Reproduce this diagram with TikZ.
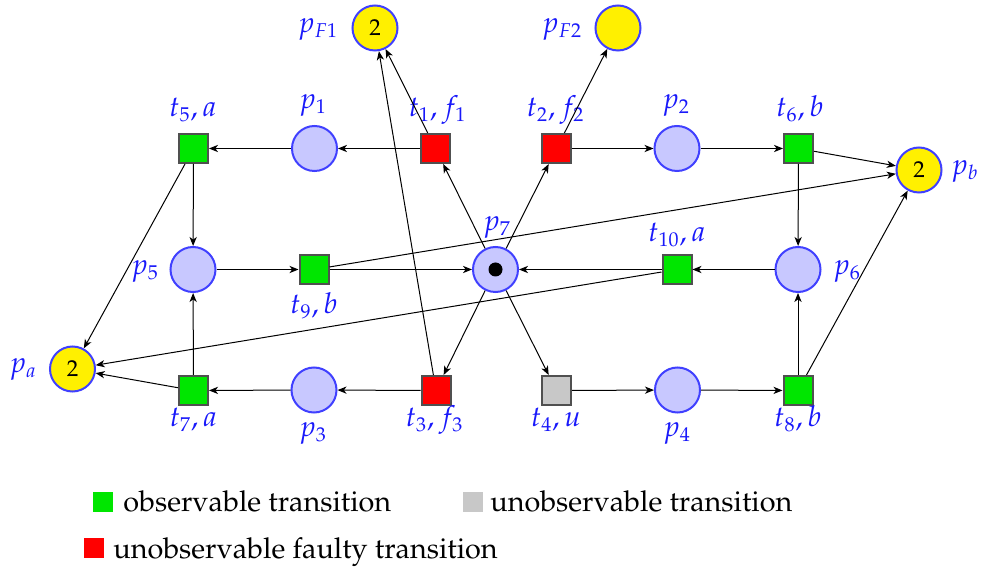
\documentclass[tikz,border=0pt]{standalone}
\usepackage[T1]{fontenc}
\usepackage{mathpazo}
\usetikzlibrary{arrows.meta}
\definecolor{plfill}{RGB}{200,200,255}
\definecolor{plborder}{RGB}{64,64,255}
\definecolor{tkyellow}{RGB}{255,240,0}
\definecolor{trgreen}{RGB}{0,230,0}
\definecolor{trred}{RGB}{255,0,0}
\definecolor{trgray}{RGB}{200,200,200}
\definecolor{trborder}{RGB}{80,80,80}
\definecolor{lblblue}{RGB}{25,25,250}
\begin{document}
\begin{tikzpicture}[x=0.5pt,y=-0.5pt,
  place/.style={circle,draw=plborder,fill=plfill,line width=1pt,minimum size=22.5pt,inner sep=0pt,font=\fontsize{11.5}{13}\selectfont},
  fplace/.style={place,fill=tkyellow},
  trans/.style={rectangle,draw=trborder,line width=1pt,minimum size=14.5pt,inner sep=0pt},
  obs/.style={trans,fill=trgreen},
  fault/.style={trans,fill=trred},
  unobs/.style={trans,fill=trgray},
  lbl/.style={text=lblblue,font=\fontsize{14.4}{16}\selectfont,anchor=base,inner sep=0pt},
  legtext/.style={font=\fontsize{14.4}{17}\selectfont,anchor=base west,inner sep=0pt},
  legbox/.style={rectangle,minimum size=10pt,inner sep=0pt},
  arc/.style={-{Stealth[length=4.5pt,width=3.6pt,inset=1.3pt]},line width=0.5pt,black},
]
\useasboundingbox (0,0) rectangle (982,572);
% places
\node[fplace] (pF1) at (375,28) {2};
\node[fplace] (pF2) at (618,28) {};
\node[place] (p1) at (314.5,148.5) {};
\node[place] (p2) at (677,148.5) {};
\node[fplace] (pb) at (919,170) {2};
\node[place] (p5) at (193,269.5) {};
\node[place] (p7) at (495.5,269.5) {};
\node[place] (p6) at (798,269.5) {};
\node[fplace] (pa) at (72.5,369) {2};
\node[place] (p3) at (314,390) {};
\node[place] (p4) at (677.5,390) {};
\fill (p7.center) circle[radius=3.5pt];
% transitions
\node[obs] (t5) at (193.5,148.5) {};
\node[fault] (t1) at (435.5,148.5) {};
\node[fault] (t2) at (556.5,148.5) {};
\node[obs] (t6) at (798.5,148.5) {};
\node[obs] (t9) at (314,269.5) {};
\node[obs] (t10) at (677,269.5) {};
\node[obs] (t7) at (193.5,390.5) {};
\node[fault] (t3) at (436,390.5) {};
\node[unobs] (t4) at (556.5,390.5) {};
\node[obs] (t8) at (798,390.5) {};
% labels
\node[lbl] (lpF1) at (318,33) {$p_{F1}$};
\node[lbl] (lpF2) at (562,33) {$p_{F2}$};
\node[lbl] (lt1) at (437.5,117) {$t_1, f_1$};
\node[lbl] (lt2) at (555.5,117) {$t_2, f_2$};
\node[lbl] (lp1) at (313,109) {$p_1$};
\node[lbl] (lp2) at (676,109) {$p_2$};
\node[lbl] (lt5) at (193,117) {$t_5, a$};
\node[lbl] (lt6) at (800,117) {$t_6, b$};
\node[lbl] (lpb) at (965,175) {$p_b$};
\node[lbl] (lp5) at (145,275) {$p_5$};
\node[lbl] (lt9) at (314,314) {$t_9, b$};
\node[lbl] (lp7) at (497,231) {$p_7$};
\node[lbl] (lt10) at (677,242) {$t_{10}, a$};
\node[lbl] (lp6) at (847,275) {$p_6$};
\node[lbl] (lpa) at (23,373) {$p_a$};
\node[lbl] (lt7) at (193.5,427) {$t_7, a$};
\node[lbl] (lp3) at (313,437) {$p_3$};
\node[lbl] (lt3) at (434.5,427) {$t_3, f_3$};
\node[lbl] (lt4) at (556,427) {$t_4, u$};
\node[lbl] (lp4) at (677,437) {$p_4$};
\node[lbl] (lt8) at (798,427) {$t_8, b$};
% arcs
\draw[arc] (t1) -- (p1);
\draw[arc] (t1) -- (pF1);
\draw[arc] (p7) -- (t1);
\draw[arc] (p7) -- (t2);
\draw[arc] (t2) -- (pF2);
\draw[arc] (t2) -- (p2);
\draw[arc] (p2) -- (t6);
\draw[arc] (p1) -- (t5);
\draw[arc] (t5) -- (p5);
\draw[arc] (t5) -- (pa);
\draw[arc] (t6) -- (pb);
\draw[arc] (t6) -- (p6);
\draw[arc] (p5) -- (t9);
\draw[arc] (t9) -- (p7);
\draw[arc] (t9) -- (pb);
\draw[arc] (t10) -- (p7);
\draw[arc] (t10) -- (pa);
\draw[arc] (p6) -- (t10);
\draw[arc] (p7) -- (t3);
\draw[arc] (p7) -- (t4);
\draw[arc] (t3) -- (pF1);
\draw[arc] (t3) -- (p3);
\draw[arc] (p3) -- (t7);
\draw[arc] (t7) -- (p5);
\draw[arc] (t7) -- (pa);
\draw[arc] (t4) -- (p4);
\draw[arc] (p4) -- (t8);
\draw[arc] (t8) -- (p6);
\draw[arc] (t8) -- (pb);
% legend
\node[legbox,fill=trgreen] (lg1) at (103,502.5) {};
\node[legtext] (lgt1) at (123,512) {observable transition};
\node[legbox,fill=trgray] (lg2) at (473,502.5) {};
\node[legtext] (lgt2) at (490,512) {unobservable transition};
\node[legbox,fill=trred] (lg3) at (93.5,548.5) {};
\node[legtext] (lgt3) at (113,559) {unobservable faulty transition};
\end{tikzpicture}
\end{document}
